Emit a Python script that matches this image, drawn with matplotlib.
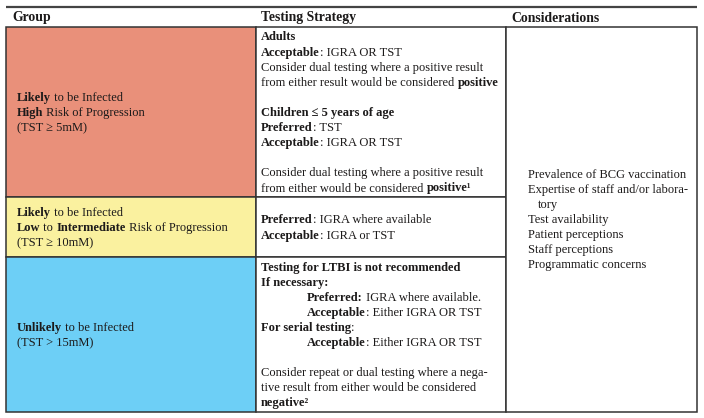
import matplotlib
matplotlib.use("Agg")
import matplotlib.pyplot as plt
from matplotlib.patches import Rectangle

# ---------------- data ----------------
headers = ["Group", "Testing Strategy", "Considerations"]

group_colors = ["#E9907A", "#FAF19F", "#6DCFF6"]

group_texts = [
    ["**Likely** to be Infected",
     "**High** Risk of Progression",
     "(TST ≥ 5mM)"],
    ["**Likely** to be Infected",
     "**Low** to **Intermediate** Risk of Progression",
     "(TST ≥ 10mM)"],
    ["**Unlikely** to be Infected",
     "(TST > 15mM)"],
]

strategy_texts = [
    ["**Adults**",
     "**Acceptable**: IGRA OR TST",
     "Consider dual testing where a positive result",
     "from either result would be considered **positive**",
     "",
     "**Children ≤ 5 years of age**",
     "**Preferred**: TST",
     "**Acceptable**: IGRA OR TST",
     "",
     "Consider dual testing where a positive result",
     "from either would be considered **positive¹**"],
    ["**Preferred**: IGRA where available",
     "**Acceptable**: IGRA or TST"],
    ["**Testing for LTBI is not recommended**",
     "**If necessary:**",
     "\t**Preferred:** IGRA where available.",
     "\t**Acceptable**: Either IGRA OR TST",
     "**For serial testing**:",
     "\t**Acceptable**: Either IGRA OR TST",
     "",
     "Consider repeat or dual testing where a nega-",
     "tive result from either would be considered",
     "**negative²**"],
]

considerations = [
    "Prevalence of BCG vaccination",
    "Expertise of staff and/or labora-",
    "\ttory",
    "Test availability",
    "Patient perceptions",
    "Staff perceptions",
    "Programmatic concerns",
]

# ---------------- layout ----------------
W, H = 704, 418
FAM = ["Liberation Serif", "DejaVu Serif"]
BODY = 9.0
HEAD = 9.9
LINE = 15.1
EDGE = "#333333"
TXT = "#1c1a1a"
LW = 1.1

xL, x1, x2, xR = 6, 255.5, 505.5, 697
y_top_line = 6.5
row_bounds = [27, 197, 257, 412]

fig = plt.figure(figsize=(W / 100, H / 100), dpi=100)
ax = fig.add_axes([0, 0, 1, 1])
ax.set_xlim(0, W)
ax.set_ylim(H, 0)
ax.axis("off")
renderer = fig.canvas.get_renderer()

_wcache = {}


def seg_width(s, bold, size):
    key = (s, bold, size)
    if key in _wcache:
        return _wcache[key]
    kw = dict(fontsize=size, fontweight="bold" if bold else "normal", family=FAM)
    t1 = ax.text(0, 0, "|" + s + "|", **kw)
    t2 = ax.text(0, 0, "||", **kw)
    w = t1.get_window_extent(renderer).width - t2.get_window_extent(renderer).width
    t1.remove()
    t2.remove()
    _wcache[key] = w
    return w


def rich(x, y, line, size=BODY, tab=0):
    if line.startswith("\t"):
        x += tab
        line = line[1:]
    parts = line.split("**")
    for i, p in enumerate(parts):
        if not p:
            continue
        bold = (i % 2 == 1)
        ax.text(x, y, p, fontsize=size, fontweight="bold" if bold else "normal",
                family=FAM, va="baseline", ha="left", color=TXT)
        x += seg_width(p, bold, size)


# top rule
ax.plot([xL, xR], [y_top_line, y_top_line], color="#444444", lw=1.6,
        solid_capstyle="butt")

# headers
for hx, h in zip([12, 261, 511], headers):
    ax.text(hx, 21.5, h, fontsize=HEAD, fontweight="bold", family=FAM,
            va="baseline", ha="left", color=TXT)

# group cells (colored) and strategy cells
for i, c in enumerate(group_colors):
    y0, y1 = row_bounds[i], row_bounds[i + 1]
    ax.add_patch(Rectangle((xL, y0), x1 - xL, y1 - y0, facecolor=c,
                           edgecolor=EDGE, lw=LW, zorder=1))
    ax.add_patch(Rectangle((x1, y0), x2 - x1, y1 - y0, facecolor="white",
                           edgecolor=EDGE, lw=LW, zorder=1))
# considerations column
ax.add_patch(Rectangle((x2, row_bounds[0]), xR - x2, row_bounds[-1] - row_bounds[0],
                       facecolor="white", edgecolor=EDGE, lw=LW, zorder=1))

# group texts - vertically centered in each row
for i, lines in enumerate(group_texts):
    y0, y1 = row_bounds[i], row_bounds[i + 1]
    n = len(lines)
    mid = (y0 + y1) / 2
    first = mid - (n - 1) * LINE / 2 + 4
    for k, ln in enumerate(lines):
        rich(17, first + k * LINE, ln)

# strategy texts
for i, lines in enumerate(strategy_texts):
    y0, y1 = row_bounds[i], row_bounds[i + 1]
    n = len(lines)
    mid = (y0 + y1) / 2
    first = mid - (n - 1) * LINE / 2 + 4
    for k, ln in enumerate(lines):
        if ln:
            rich(261, first + k * LINE, ln, tab=46)

# considerations
n = len(considerations)
mid = 219
first = mid - (n - 1) * LINE / 2 + 4
for k, ln in enumerate(considerations):
    rich(528, first + k * LINE, ln, tab=10)

fig.savefig("out.png", dpi=100)
